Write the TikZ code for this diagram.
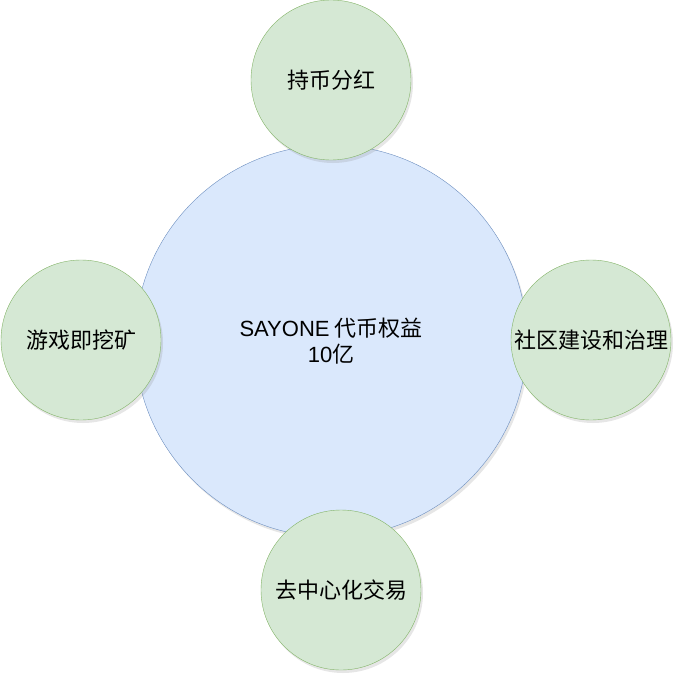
\documentclass[tikz,border=0pt]{standalone}
\usepackage{fontspec}
\setmainfont{Noto Sans CJK SC}
\newfontfamily\latinfont{Liberation Sans}
\usetikzlibrary{shadows}

\definecolor{coreFill}{HTML}{DAE8FC}
\definecolor{coreLine}{HTML}{6C8EBF}
\definecolor{leafFill}{HTML}{D5E8D4}
\definecolor{leafLine}{HTML}{82B366}

\tikzset{
  core/.style={circle, draw=coreLine, fill=coreFill, minimum size=392pt, inner sep=0pt, align=center,
    drop shadow={shadow xshift=2pt, shadow yshift=-3pt, opacity=0.2}},
  leaf/.style={circle, draw=leafLine, fill=leafFill, minimum size=160pt, inner sep=0pt,
    drop shadow={shadow xshift=2pt, shadow yshift=-3pt, opacity=0.2}}
}

\begin{document}
\begin{tikzpicture}[x=1pt, y=-1pt, font=\fontsize{22}{26}\selectfont]
  \useasboundingbox (0,0) rectangle (677,677);
  % centre token pool
  \node[core] (token) at (331,341) {{\latinfont SAYONE} 代币权益\\{\latinfont 10}亿};
  % the four uses
  \node[leaf] (dividend) at (331,80) {持币分红};
  \node[leaf] (mining) at (81,340) {游戏即挖矿};
  \node[leaf] (community) at (591,340) {社区建设和治理};
  \node[leaf] (exchange) at (341,590) {去中心化交易};
\end{tikzpicture}
\end{document}
